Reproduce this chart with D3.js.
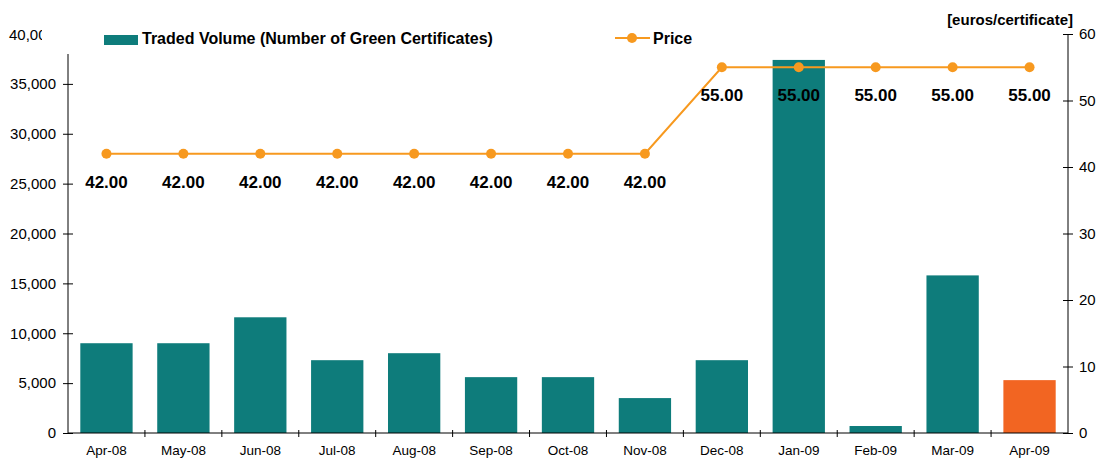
<!DOCTYPE html>
<html>
<head>
<meta charset="utf-8">
<script src="https://cdn.jsdelivr.net/npm/d3@7"></script>
<style>
  body { margin: 0; background: #fff; }
  svg { font-family: "Liberation Sans", Arial, sans-serif; }
</style>
</head>
<body>
<div id="chart"></div>
<script>
// --- data ---
const months = ["Apr-08","May-08","Jun-08","Jul-08","Aug-08","Sep-08","Oct-08","Nov-08","Dec-08","Jan-09","Feb-09","Mar-09","Apr-09"];
const volume = [9000, 9000, 11600, 7300, 8000, 5600, 5600, 3500, 7300, 37400, 700, 15800, 5300];
const price = [42, 42, 42, 42, 42, 42, 42, 42, 55, 55, 55, 55, 55];
const volumeTicks = [0, 5000, 10000, 15000, 20000, 25000, 30000, 35000, 40000];
const priceTicks = [0, 10, 20, 30, 40, 50, 60];

const width = 1099, height = 458;
const m = { left: 68, right: 31, top: 34, bottom: 25 };
const svg = d3.select("#chart").append("svg").attr("width", width).attr("height", height);

const x = d3.scaleBand().domain(months).range([m.left, width - m.right]).paddingInner(0.32).paddingOuter(0.16);
const xTicks = d3.scaleBand().domain(months).range([m.left, width - m.right]);
const yL = d3.scaleLinear().domain([0, 40000]).range([height - m.bottom, m.top]);
const yR = d3.scaleLinear().domain([0, 60]).range([height - m.bottom, m.top]);

const teal = "#0e7c7b", orangeBar = "#f26522", lineCol = "#f7991f";

// bars
svg.append("g").selectAll("rect").data(volume).join("rect")
    .attr("x", (d, i) => x(months[i]))
    .attr("y", d => yL(d))
    .attr("width", x.bandwidth())
    .attr("height", d => yL(0) - yL(d))
    .attr("fill", (d, i) => i === months.length - 1 ? orangeBar : teal);

// price line
const cx = (d, i) => xTicks(months[i]) + xTicks.bandwidth() / 2;
svg.append("path").datum(price)
    .attr("fill", "none").attr("stroke", lineCol).attr("stroke-width", 2)
    .attr("d", d3.line().x(cx).y(d => yR(d)));
svg.append("g").selectAll("circle").data(price).join("circle")
    .attr("cx", cx).attr("cy", d => yR(d)).attr("r", 5).attr("fill", lineCol);
svg.append("g").selectAll("text").data(price).join("text")
    .attr("x", cx).attr("y", d => yR(d) + 34)
    .attr("text-anchor", "middle").style("font-size", "17px").style("font-weight", "bold")
    .attr("fill", "#000")
    .text(d => d.toFixed(2));

// left axis
const left = svg.append("g").attr("transform", `translate(${m.left},0)`)
    .call(d3.axisLeft(yL).tickValues(volumeTicks.slice(0, -1)).tickSize(5).tickFormat(d3.format(",")));
left.selectAll(".tick line").attr("x2", 5).attr("x1", -5);
left.select(".domain").remove();
left.selectAll("text").style("font-size", "15px").attr("x", -12).attr("fill", "#000");
svg.append("line").attr("x1", m.left).attr("x2", m.left).attr("y1", m.top).attr("y2", yL(0)).attr("stroke", "#000");

// right axis
const right = svg.append("g").attr("transform", `translate(${width - m.right},0)`)
    .call(d3.axisRight(yR).tickValues(priceTicks).tickSize(5));
right.selectAll(".tick line").attr("x1", -5).attr("x2", 5);
right.select(".domain").remove();
right.selectAll("text").style("font-size", "15px").attr("x", 11).attr("fill", "#000");
svg.append("line").attr("x1", width - m.right).attr("x2", width - m.right).attr("y1", m.top).attr("y2", yR(0)).attr("stroke", "#000");

// bottom axis
const bottom = svg.append("g").attr("transform", `translate(0,${yL(0)})`)
    .call(d3.axisBottom(xTicks).tickSize(0));
bottom.select(".domain").attr("stroke", "#000").attr("d", `M${m.left},0H${width - m.right}`);
bottom.selectAll("text").style("font-size", "13.5px").attr("y", 12).attr("fill", "#000");
svg.append("g").selectAll("line").data(months.slice(1)).join("line")
    .attr("x1", d => xTicks(d)).attr("x2", d => xTicks(d))
    .attr("y1", yL(0) - 3).attr("y2", yL(0) + 4).attr("stroke", "#000");

// legend box (covers axis top)
svg.append("rect").attr("x", 42).attr("y", 24).attr("width", 660).attr("height", 30).attr("fill", "#fff");
svg.append("rect").attr("x", 104).attr("y", 35).attr("width", 34).attr("height", 10).attr("fill", teal);
svg.append("text").attr("x", 142).attr("y", 44).style("font-size", "16px").style("font-weight", "bold")
    .text("Traded Volume (Number of Green Certificates)");
svg.append("line").attr("x1", 615).attr("x2", 650).attr("y1", 38).attr("y2", 38).attr("stroke", lineCol).attr("stroke-width", 2);
svg.append("circle").attr("cx", 632).attr("cy", 38).attr("r", 5).attr("fill", lineCol);
svg.append("text").attr("x", 653).attr("y", 44).style("font-size", "16px").style("font-weight", "bold").text("Price");

// clipped top-left tick label
svg.append("clipPath").attr("id", "clipL").append("rect").attr("x", 0).attr("y", 20).attr("width", 42).attr("height", 30);
svg.append("text").attr("x", 9).attr("y", 40).attr("clip-path", "url(#clipL)")
    .style("font-size", "15px").text(d3.format(",")(volumeTicks[volumeTicks.length - 1]));

// right axis unit
svg.append("text").attr("x", 1073).attr("y", 25).attr("text-anchor", "end")
    .style("font-size", "15px").style("font-weight", "bold").text("[euros/certificate]");
</script>
</body>
</html>
